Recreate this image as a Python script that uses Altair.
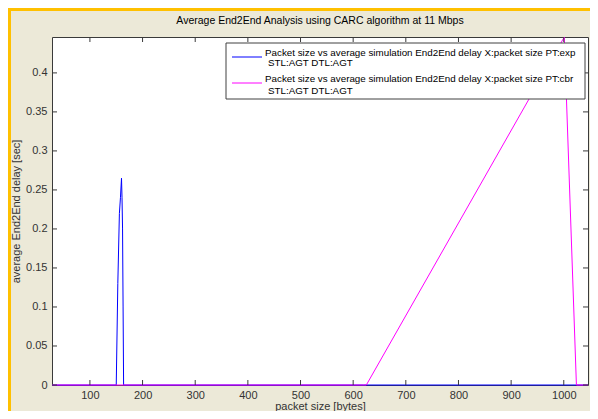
import altair as alt
import pandas as pd

# ---- text ----
title_text = "Average End2End Analysis using CARC algorithm at 11 Mbps"
x_title = "packet size [bytes]"
y_title = "average End2End delay [sec]"
legend_exp = ["Packet size vs average simulation End2End delay X:packet size PT:exp", "STL:AGT DTL:AGT"]
legend_cbr = ["Packet size vs average simulation End2End delay X:packet size PT:cbr", "STL:AGT DTL:AGT"]

# ---- data ----
exp_x = [28, 150, 153, 156, 158, 160, 161, 162, 163, 164, 620, 1024, 1046]
exp_y = [0, 0, 0.13, 0.22, 0.24, 0.265, 0.24, 0.2, 0.1, 0, 0, 0, 0]
cbr_x = [28, 625, 1001, 1024, 1046]
cbr_y = [0, 0, 0.446, 0, 0]

x_ticks = [100, 200, 300, 400, 500, 600, 700, 800, 900, 1000]
y_ticks = [0, 0.05, 0.1, 0.15, 0.2, 0.25, 0.3, 0.35, 0.4]
x_domain = [28, 1046]
y_domain = [0, 0.446]

# ---- styling ----
W, H = 536, 348
FONT = "Liberation Sans"
AX = "#3a3a3a"
BLUE = "#0000FF"
MAGENTA = "#FF00FF"
LFS = 9.8

xs = alt.Scale(domain=x_domain, nice=False, zero=False)
ys = alt.Scale(domain=y_domain, nice=False, zero=False)
x_axis = alt.Axis(values=x_ticks, format="d", title=x_title, labelPadding=4, titlePadding=0)
y_axis = alt.Axis(values=y_ticks, format="~g", title=y_title, labelPadding=5, titlePadding=4)

exp_df = pd.DataFrame({"x": exp_x, "y": exp_y})
cbr_df = pd.DataFrame({"x": cbr_x, "y": cbr_y})
xt_df = pd.DataFrame({"x": x_ticks})
yt_df = pd.DataFrame({"y": y_ticks})
one = pd.DataFrame({"a": [0]})

X = alt.X("x:Q", scale=xs, axis=x_axis)
Y = alt.Y("y:Q", scale=ys, axis=y_axis)

exp_line = alt.Chart(exp_df).mark_line(color=BLUE, strokeWidth=1).encode(x=X, y=Y)
cbr_line = alt.Chart(cbr_df).mark_line(color=MAGENTA, strokeWidth=1).encode(x=X, y=Y)

tick_len = 5
xt_bottom = alt.Chart(xt_df).mark_rule(color=AX, strokeWidth=1).encode(
    x=X, y=alt.value(H), y2=alt.value(H - tick_len))
xt_top = alt.Chart(xt_df).mark_rule(color=AX, strokeWidth=1).encode(
    x=X, y=alt.value(0), y2=alt.value(tick_len))
yt_left = alt.Chart(yt_df).mark_rule(color=AX, strokeWidth=1).encode(
    y=Y, x=alt.value(0), x2=alt.value(tick_len))
yt_right = alt.Chart(yt_df).mark_rule(color=AX, strokeWidth=1).encode(
    y=Y, x=alt.value(W), x2=alt.value(W - tick_len))

# ---- legend box (decoration) ----
leg_box = alt.Chart(one).mark_rect(fill="white", stroke="#404040", strokeWidth=1).encode(
    x=alt.value(174), x2=alt.value(533), y=alt.value(6), y2=alt.value(62))
leg_line1 = alt.Chart(one).mark_rule(color=BLUE, strokeWidth=1).encode(
    x=alt.value(180), x2=alt.value(210), y=alt.value(20))
leg_line2 = alt.Chart(one).mark_rule(color=MAGENTA, strokeWidth=1).encode(
    x=alt.value(180), x2=alt.value(210), y=alt.value(46))

def ltext(txt, x, y, size=LFS, align="left"):
    return alt.Chart(one).mark_text(align=align, baseline="middle", font=FONT,
                                    fontSize=size, color="black").encode(
        x=alt.value(x), y=alt.value(y), text=alt.value(txt))

leg_texts = [
    ltext(legend_exp[0], 213, 16), ltext(legend_exp[1], 216, 26),
    ltext(legend_cbr[0], 213, 42), ltext(legend_cbr[1], 216, 54),
]

title_mark = ltext(title_text, W / 2, -16, size=10.5, align="center")

# ---- orange frame (decoration) ----
frame_left = alt.Chart(one).mark_rule(color="#FFC000", strokeWidth=3).encode(
    x=alt.value(-42.5), y=alt.value(-27.5), y2=alt.value(H + 30))
frame_top = alt.Chart(one).mark_rule(color="#FFC000", strokeWidth=3).encode(
    y=alt.value(-27.5), x=alt.value(-44), x2=alt.value(W + 4))

chart = alt.layer(
    exp_line, cbr_line, xt_bottom, xt_top, yt_left, yt_right,
    leg_box, leg_line1, leg_line2, *leg_texts, title_mark, frame_left, frame_top,
).properties(
    width=W, height=H,
    autosize=alt.AutoSizeParams(type="none"),
    padding={"left": 44, "top": 29, "right": 2, "bottom": 26},
).configure(
    background="#ECE9D8",
).configure_view(
    fill="white", stroke=AX, strokeWidth=1,
).configure_axis(
    grid=False, domain=False, ticks=False,
    labelFont=FONT, labelFontSize=11, labelColor="#333333",
    titleFont=FONT, titleFontSize=11, titleFontWeight="normal", titleColor="#333333",
)

chart.save("out.html", embed_options={"renderer": "svg", "actions": False})
